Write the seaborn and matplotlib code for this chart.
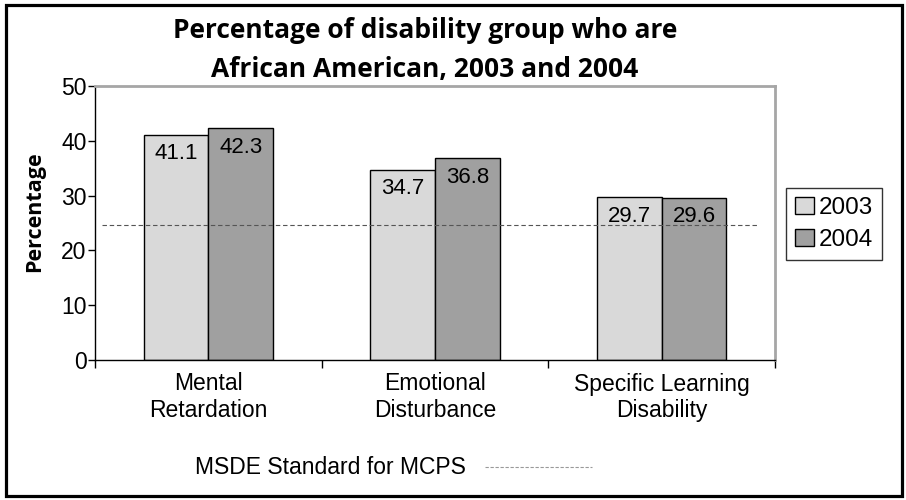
import matplotlib
matplotlib.use("Agg")
import matplotlib.pyplot as plt
import seaborn as sns
import pandas as pd
from matplotlib.lines import Line2D
from matplotlib.patches import Rectangle

categories = ["Mental\nRetardation", "Emotional\nDisturbance", "Specific Learning\nDisability"]
years = ["2003", "2004"]
values_2003 = [41.1, 34.7, 29.7]
values_2004 = [42.3, 36.8, 29.6]
msde_standard = 24.7
y_ticks = [0, 10, 20, 30, 40, 50]
title_lines = ["Percentage of disability group who are", "African American, 2003 and 2004"]

df = pd.DataFrame({
    "Category": categories * 2,
    "Year": [years[0]] * 3 + [years[1]] * 3,
    "Percentage": values_2003 + values_2004,
})

sns.set_theme(style="white")
plt.rcParams["font.family"] = ["Liberation Sans", "DejaVu Sans"]
plt.rcParams.update({"text.color": "black", "axes.labelcolor": "black",
                     "xtick.color": "black", "ytick.color": "black"})

W, H = 906, 500
fig = plt.figure(figsize=(W / 100, H / 100), dpi=100)
ax = fig.add_axes([95 / W, 1 - 360 / H, 680 / W, 274 / H])

colors = {"2003": "#d9d9d9", "2004": "#a0a0a0"}
sns.barplot(data=df, x="Category", y="Percentage", hue="Year", palette=colors,
            width=0.57, edgecolor="black", linewidth=1, saturation=1, ax=ax,
            legend=True)

# value labels just inside the top of each bar
for container in ax.containers:
    for bar in container:
        h = bar.get_height()
        ax.annotate(f"{h:.1f}", (bar.get_x() + bar.get_width() / 2, h),
                    xytext=(0, -6), textcoords="offset points",
                    ha="center", va="top", fontsize=16, color="black")

# state standard reference line
ax.axhline(msde_standard, xmin=0.01, xmax=0.975, color="#555555",
           linestyle=(0, (4, 2.5)), linewidth=0.8, zorder=5)

ax.set_ylim(0, 50)
ax.set_xlim(-0.5, 2.5)
ax.set_yticks(y_ticks)
ax.tick_params(axis="y", labelsize=16.5, length=5, width=1, direction="out",
               left=True, color="black", pad=1)
ax.set_xticks([0, 1, 2])
ax.set_xticklabels(categories, fontsize=16.5, linespacing=1.2)
ax.tick_params(axis="x", which="major", length=0, pad=9)
ax.set_xticks([-0.5, 0.5, 1.5, 2.5], minor=True)
ax.tick_params(axis="x", which="minor", length=6, width=1, direction="out",
               bottom=True, color="black")
ax.set_xlabel("")
ax.set_ylabel("Percentage", fontsize=15.5, fontweight="bold", family=["Open Sans"])
ax.yaxis.set_label_coords(-0.074, 0.54)

for side in ["left", "bottom"]:
    ax.spines[side].set_color("black")
    ax.spines[side].set_linewidth(1)
for side in ["top", "right"]:
    ax.spines[side].set_color("#a6a6a6")
    ax.spines[side].set_linewidth(2)

handles, labels = ax.get_legend_handles_labels()
leg = ax.legend(handles, labels, loc="upper left",
                bbox_to_anchor=((786 - 95) / 680, (360 - 188) / 274),
                fontsize=17.5, frameon=True, fancybox=False, edgecolor="black",
                handlelength=0.8, handleheight=0.7, handletextpad=0.2,
                borderpad=0.35, labelspacing=0.45, borderaxespad=0)
leg.get_frame().set_linewidth(1)

fig.text(425 / W, 1 - 30 / H, title_lines[0], ha="center", va="center",
         fontsize=19, fontweight="bold", family=["Open Sans"])
fig.text(425 / W, 1 - 69 / H, title_lines[1], ha="center", va="center",
         fontsize=19, fontweight="bold", family=["Open Sans"])

# bottom key for the reference line
fig.text(195 / W, 1 - 468 / H, "MSDE Standard for MCPS", ha="left", va="center",
         fontsize=16.5)
fig.add_artist(Line2D([485 / W, 592 / W], [1 - 467 / H, 1 - 467 / H],
                      transform=fig.transFigure, color="#999999",
                      linestyle=(0, (3, 1.5)), linewidth=0.8))

# outer frame
fig.add_artist(Rectangle((6 / W, 4 / H), 1 - 10 / W, 1 - 9 / H,
                         transform=fig.transFigure, fill=False,
                         edgecolor="black", linewidth=2.3))

fig.savefig("out.png", dpi=100)
